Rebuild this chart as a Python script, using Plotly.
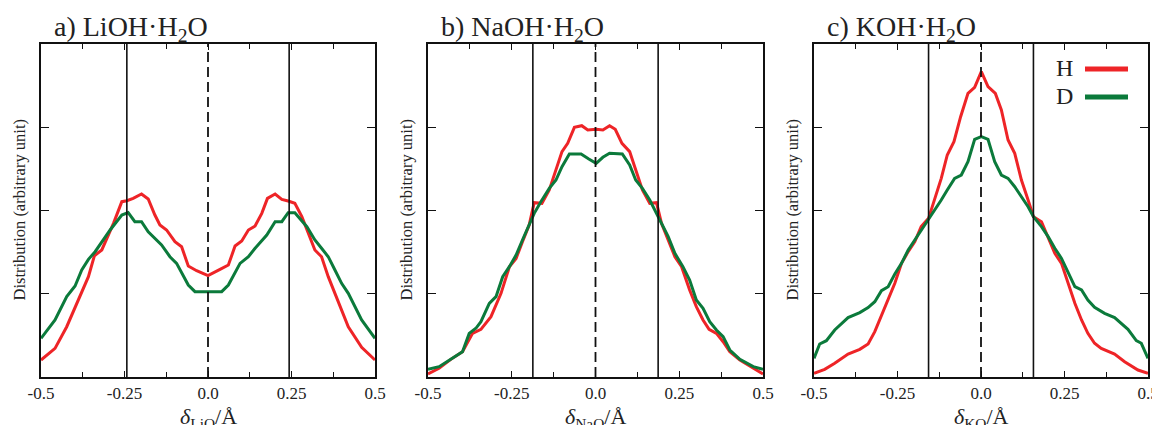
import plotly.graph_objects as go

# ---------------- data ----------------
panel_titles = ["a) LiOH·H<sub>2</sub>O", "b) NaOH·H<sub>2</sub>O", "c) KOH·H<sub>2</sub>O"]
axis_subs = ["LiO", "NaO", "KO"]
separators = [0.243, 0.187, 0.157]   # |delta| of the solid guide lines
series_names = ["H", "D"]

a_x_H = [-0.5, -0.458, -0.423, -0.383, -0.358, -0.340, -0.318, -0.283, -0.258, -0.243, -0.224, -0.199,
         -0.179, -0.159, -0.144, -0.124, -0.099, -0.079, -0.059, -0.034, 0.0, 0.036, 0.061, 0.081, 0.101,
         0.121, 0.141, 0.161, 0.178, 0.201, 0.221, 0.240, 0.260, 0.281, 0.320, 0.340, 0.360, 0.380, 0.420,
         0.460, 0.5]
a_y_H = [0.204, 0.344, 0.604, 0.965, 1.205, 1.457, 1.526, 1.846, 2.106, 2.118, 2.146, 2.198, 2.138, 1.946,
         1.826, 1.766, 1.625, 1.565, 1.333, 1.277, 1.217, 1.293, 1.345, 1.573, 1.633, 1.766, 1.814, 1.966,
         2.146, 2.198, 2.134, 2.114, 2.086, 1.926, 1.526, 1.445, 1.205, 1.005, 0.604, 0.357, 0.204]
a_x_D = [-0.5, -0.458, -0.423, -0.398, -0.378, -0.358, -0.338, -0.318, -0.293, -0.258, -0.239, -0.219,
         -0.199, -0.179, -0.139, -0.114, -0.094, -0.059, -0.039, 0.041, 0.061, 0.096, 0.121, 0.141, 0.176,
         0.201, 0.221, 0.240, 0.260, 0.296, 0.320, 0.340, 0.360, 0.380, 0.400, 0.420, 0.460, 0.5]
a_y_D = [0.464, 0.685, 0.965, 1.093, 1.285, 1.413, 1.505, 1.625, 1.766, 1.946, 1.974, 1.866, 1.866, 1.745,
         1.586, 1.445, 1.365, 1.105, 1.025, 1.025, 1.105, 1.365, 1.445, 1.546, 1.706, 1.866, 1.866, 1.974,
         1.974, 1.806, 1.646, 1.546, 1.445, 1.285, 1.125, 1.005, 0.685, 0.464]

b_x_H = [-0.5, -0.467, -0.432, -0.397, -0.367, -0.342, -0.312, -0.282, -0.257, -0.237, -0.218, -0.198,
         -0.183, -0.160, -0.138, -0.118, -0.100, -0.083, -0.063, -0.041, -0.023, 0.002, 0.022, 0.042, 0.059,
         0.079, 0.102, 0.117, 0.140, 0.162, 0.182, 0.197, 0.217, 0.237, 0.257, 0.281, 0.301, 0.321, 0.339,
         0.361, 0.381, 0.401, 0.431, 0.471, 0.5]
b_y_H = [0.036, 0.104, 0.212, 0.304, 0.524, 0.572, 0.725, 1.005, 1.325, 1.425, 1.626, 1.826, 2.094, 2.086,
         2.246, 2.486, 2.707, 2.807, 2.999, 3.019, 2.967, 2.975, 2.967, 3.019, 2.975, 2.807, 2.707, 2.526,
         2.246, 2.086, 2.094, 1.846, 1.646, 1.445, 1.325, 1.045, 0.845, 0.685, 0.572, 0.524, 0.424, 0.304,
         0.204, 0.104, 0.036]
b_x_D = [-0.5, -0.467, -0.432, -0.397, -0.377, -0.357, -0.342, -0.317, -0.297, -0.277, -0.257, -0.237,
         -0.218, -0.198, -0.183, -0.163, -0.138, -0.118, -0.100, -0.078, -0.043, -0.020, 0.002, 0.022, 0.042,
         0.080, 0.102, 0.120, 0.140, 0.162, 0.182, 0.197, 0.217, 0.237, 0.261, 0.281, 0.301, 0.321, 0.341,
         0.361, 0.381, 0.401, 0.431, 0.471, 0.5]
b_y_D = [0.092, 0.124, 0.212, 0.304, 0.524, 0.585, 0.665, 0.885, 0.965, 1.205, 1.325, 1.465, 1.646, 1.826,
         1.966, 2.106, 2.266, 2.366, 2.526, 2.679, 2.679, 2.619, 2.567, 2.639, 2.687, 2.679, 2.547, 2.366,
         2.266, 2.126, 1.966, 1.846, 1.686, 1.485, 1.325, 1.165, 0.925, 0.825, 0.665, 0.565, 0.485, 0.324,
         0.212, 0.124, 0.092]

c_x_H = [-0.5, -0.468, -0.438, -0.398, -0.363, -0.338, -0.318, -0.298, -0.278, -0.258, -0.238, -0.218,
         -0.198, -0.179, -0.157, -0.139, -0.119, -0.101, -0.081, -0.061, -0.039, -0.019, 0.001, 0.021, 0.043,
         0.061, 0.081, 0.101, 0.121, 0.141, 0.157, 0.181, 0.201, 0.221, 0.241, 0.261, 0.281, 0.301, 0.320,
         0.340, 0.360, 0.400, 0.430, 0.470, 0.5]
c_y_H = [0.044, 0.092, 0.164, 0.276, 0.332, 0.396, 0.545, 0.745, 0.925, 1.125, 1.365, 1.506, 1.626, 1.806,
         1.906, 2.126, 2.386, 2.667, 2.827, 3.127, 3.407, 3.479, 3.668, 3.488, 3.407, 3.207, 2.847, 2.687,
         2.366, 2.126, 1.926, 1.866, 1.686, 1.485, 1.365, 1.125, 0.885, 0.685, 0.525, 0.405, 0.344, 0.276,
         0.184, 0.084, 0.044]
c_x_D = [-0.5, -0.483, -0.463, -0.438, -0.398, -0.363, -0.338, -0.318, -0.298, -0.278, -0.258, -0.238,
         -0.218, -0.198, -0.179, -0.157, -0.139, -0.119, -0.101, -0.079, -0.059, -0.039, -0.019, 0.001, 0.021,
         0.041, 0.061, 0.081, 0.101, 0.121, 0.141, 0.157, 0.181, 0.201, 0.221, 0.241, 0.261, 0.281, 0.301,
         0.320, 0.340, 0.370, 0.400, 0.420, 0.440, 0.465, 0.480, 0.5]
c_y_D = [0.224, 0.396, 0.436, 0.565, 0.713, 0.773, 0.833, 0.905, 1.037, 1.085, 1.237, 1.365, 1.526, 1.646,
         1.766, 1.894, 2.006, 2.126, 2.246, 2.386, 2.426, 2.587, 2.855, 2.887, 2.855, 2.587, 2.426, 2.386,
         2.286, 2.166, 2.046, 1.926, 1.806, 1.686, 1.546, 1.425, 1.265, 1.085, 1.045, 0.925, 0.837, 0.765,
         0.713, 0.645, 0.573, 0.436, 0.405, 0.224]

x_tick_vals = [-0.5, -0.25, 0.0, 0.25, 0.5]
x_tick_text = ["-0.5", "-0.25", "0.0", "0.25", "0.5"]
y_tick_vals = [0, 1, 2, 3, 4]

# ---------------- styling / layout ----------------
VW, VH = 1160, 425          # browser window
OFF = 8                     # default page margin of the html body
W, H = VW - OFF, VH - OFF   # figure size so that it ends at the window edges
ML, MR, MT, MB = 41 - OFF, 12, 44 - OFF, 48
PW, PH = W - ML - MR, H - MT - MB
RED = "#EE2427"
GREEN = "#0B7A3B"
FONT = "Liberation Serif"
TXT = "#222222"
colors = {"H": RED, "D": GREEN}


def px_x(p):
    """window pixel -> paper x"""
    return (p - OFF - ML) / PW


def px_y(p):
    """window pixel -> paper y"""
    return (H - MB - (p - OFF)) / PH


x_domains_px = [(41, 375), (428, 763), (814, 1148)]

panels = [
    {"H": (a_x_H, a_y_H), "D": (a_x_D, a_y_D)},
    {"H": (b_x_H, b_y_H), "D": (b_x_D, b_y_D)},
    {"H": (c_x_H, c_y_H), "D": (c_x_D, c_y_D)},
]

fig = go.Figure()
layout = dict(
    width=W, height=H,
    margin=dict(l=ML, r=MR, t=MT, b=MB, pad=0, autoexpand=False),
    paper_bgcolor="white", plot_bgcolor="white",
    showlegend=False,
    font=dict(family=FONT, color=TXT),
    annotations=[], shapes=[],
)

for i, pdata in enumerate(panels):
    sfx = "" if i == 0 else str(i + 1)
    xa, ya = "x" + sfx, "y" + sfx
    for name in series_names:
        xs, ys = pdata[name]
        fig.add_trace(go.Scatter(x=xs, y=ys, mode="lines", name=name, xaxis=xa, yaxis=ya,
                                 line=dict(color=colors[name], width=3), showlegend=False))
    x0, x1 = x_domains_px[i]
    common_axis = dict(showline=True, linecolor="#111111", linewidth=1.6, mirror="allticks",
                       ticks="inside", tickcolor="#111111", tickwidth=1.3, showgrid=False,
                       zeroline=False, automargin=False)
    layout["xaxis" + sfx] = dict(domain=[max(0, px_x(x0)), min(1, px_x(x1))], range=[-0.5, 0.5], anchor=ya,
                                 tickvals=x_tick_vals, ticktext=x_tick_text, ticklen=6,
                                 tickfont=dict(size=17, family=FONT, color=TXT),
                                 minor=dict(dtick=0.125, tick0=-0.5, ticks="inside", ticklen=5,
                                            tickcolor="#111111", tickwidth=1.3, showgrid=False),
                                 **common_axis)
    layout["yaxis" + sfx] = dict(domain=[0, 1], range=[0, 4], anchor=xa, tickvals=y_tick_vals,
                                 showticklabels=False, ticklen=8, **common_axis)
    # guide lines
    for sx in (-separators[i], separators[i]):
        layout["shapes"].append(dict(type="line", xref=xa, yref=ya + " domain", x0=sx, x1=sx, y0=0, y1=1,
                                     line=dict(color="#111111", width=1.6)))
    layout["shapes"].append(dict(type="line", xref=xa, yref=ya + " domain", x0=0, x1=0, y0=0, y1=1,
                                 line=dict(color="#111111", width=1.8, dash="10px,5px")))
    # panel title
    layout["annotations"].append(dict(text=panel_titles[i], xref="paper", yref="paper",
                                      x=px_x(x0 + 11), y=px_y(48), xanchor="left", yanchor="bottom",
                                      showarrow=False, font=dict(size=28, family=FONT, color=TXT)))
    # x axis title
    layout["annotations"].append(dict(text="<i>δ</i><sub>" + axis_subs[i] + "</sub>/Å", xref="paper",
                                      yref="paper", x=px_x((x0 + x1) / 2), y=px_y(402),
                                      xanchor="center", yanchor="top", showarrow=False,
                                      font=dict(size=22, family=FONT, color=TXT)))
    # y axis title
    layout["annotations"].append(dict(text="Distribution (arbitrary unit)", xref="paper", yref="paper",
                                      x=px_x(x0 - 22), y=0.5, textangle=-90,
                                      xanchor="center", yanchor="middle", showarrow=False,
                                      font=dict(size=16.5, family=FONT, color=TXT)))

# legend (text followed by line sample, as in the original figure)
legend_rows = [("H", RED, 68), ("D", GREEN, 96)]
for label, col, ypx in legend_rows:
    layout["annotations"].append(dict(text=label, xref="paper", yref="paper", x=px_x(1064), y=px_y(ypx),
                                      xanchor="center", yanchor="middle", showarrow=False,
                                      font=dict(size=24, family=FONT, color=TXT)))
    lp = px_y(ypx + 1)
    layout["shapes"].append(dict(type="line", xref="paper", yref="paper", x0=px_x(1085), x1=px_x(1128),
                                 y0=lp, y1=lp, line=dict(color=col, width=5)))

fig.update_layout(**layout)
fig.write_html("out.html")
